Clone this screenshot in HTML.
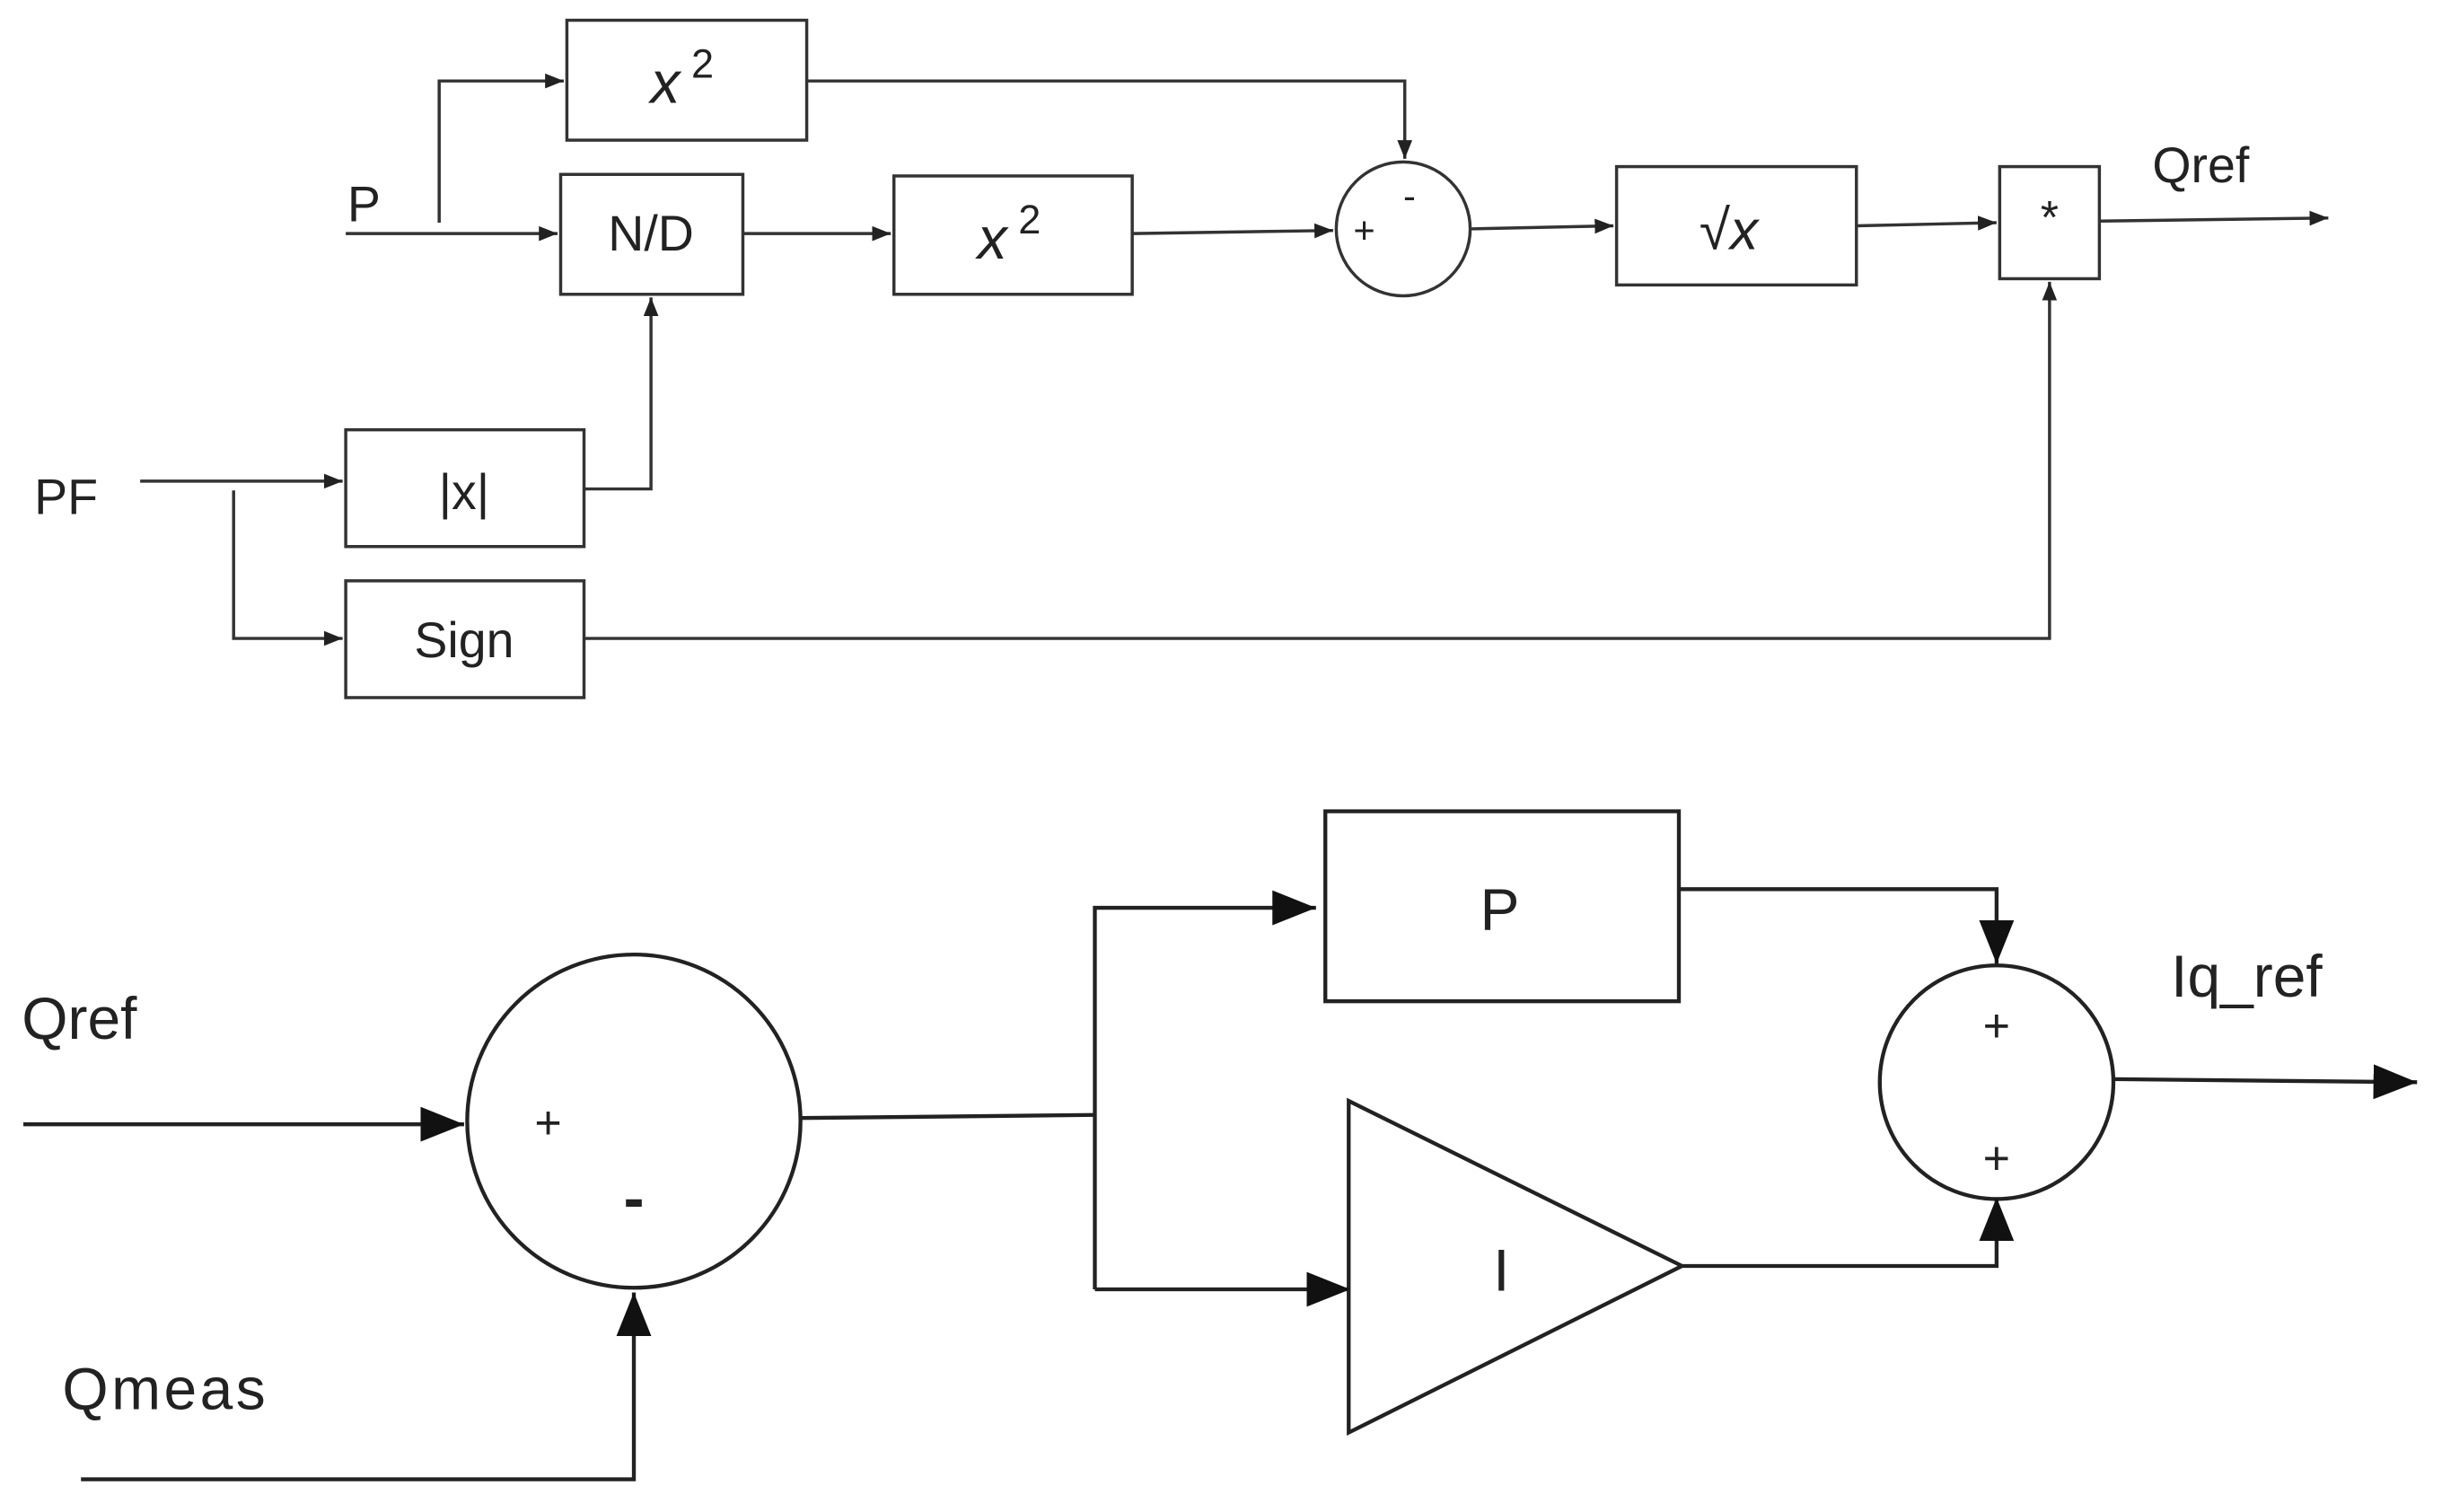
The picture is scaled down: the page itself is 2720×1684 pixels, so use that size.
<!DOCTYPE html>
<html><head><meta charset="utf-8"><style>
html,body{margin:0;padding:0;background:#fff;}
svg{display:block;}
text{font-family:"Liberation Sans",sans-serif;fill:#222;}
</style></head><body>
<svg width="2720" height="1684" viewBox="0 0 1568 971" preserveAspectRatio="none" xmlns="http://www.w3.org/2000/svg">
<defs>
<marker id="a" viewBox="0 0 10 10" refX="10" refY="5" markerWidth="12" markerHeight="12" orient="auto" markerUnits="userSpaceOnUse"><path d="M0,1L10,5L0,9z" fill="#222"/></marker>
<marker id="b" viewBox="0 0 10 10" refX="10" refY="5" markerWidth="28" markerHeight="28" orient="auto" markerUnits="userSpaceOnUse"><path d="M0,1L10,5L0,9z" fill="#111"/></marker>
</defs>
<g stroke="#333" stroke-width="2" fill="none">
<rect x="364" y="13" width="154" height="77"/>
<rect x="360" y="112" width="117" height="77"/>
<rect x="574" y="113" width="153" height="76"/>
<circle cx="901" cy="147" r="43"/>
<rect x="1038" y="107" width="154" height="76"/>
<rect x="1284" y="107" width="64" height="72"/>
<rect x="222" y="276" width="153" height="75"/>
<rect x="222" y="373" width="153" height="75"/>
<path d="M222,150H358" marker-end="url(#a)"/>
<path d="M282,143V52H362" marker-end="url(#a)"/>
<path d="M477,150H572" marker-end="url(#a)"/>
<path d="M727,150L856,148" marker-end="url(#a)"/>
<path d="M518,52H902V102" marker-end="url(#a)"/>
<path d="M944,147L1036,145" marker-end="url(#a)"/>
<path d="M1192,145L1282,143" marker-end="url(#a)"/>
<path d="M1348,142L1495,140" marker-end="url(#a)"/>
<path d="M90,309H220" marker-end="url(#a)"/>
<path d="M375,314H418V191" marker-end="url(#a)"/>
<path d="M150,315V410H220" marker-end="url(#a)"/>
<path d="M375,410H1316V181" marker-end="url(#a)"/>
</g>
<g stroke="#222" stroke-width="2.5" fill="none">
<circle cx="407" cy="720" r="107"/>
<rect x="851" y="521" width="227" height="122"/>
<path d="M866,707L866,920L1080,813z"/>
<circle cx="1282" cy="695" r="75"/>
<path d="M15,722H298" marker-end="url(#b)"/>
<path d="M52,950H407V830" marker-end="url(#b)"/>
<path d="M514,718L703,716"/>
<path d="M703,828V583H845" marker-end="url(#b)"/>
<path d="M703,828H867" marker-end="url(#b)"/>
<path d="M1078,571H1282V619" marker-end="url(#b)"/>
<path d="M1080,813H1282V769" marker-end="url(#b)"/>
<path d="M1356,693L1552,695" marker-end="url(#b)"/>
</g>
<text x="438" y="66" font-size="38" font-style="italic" font-family="Liberation Serif" text-anchor="middle">x<tspan dy="-16" font-size="26" font-style="normal"> 2</tspan></text>
<text x="648" y="166" font-size="38" font-style="italic" font-family="Liberation Serif" text-anchor="middle">x<tspan dy="-16" font-size="26" font-style="normal"> 2</tspan></text>
<text x="418" y="161" font-size="32" text-anchor="middle">N/D</text>
<text x="1110" y="160" font-size="36" font-family="Liberation Serif" text-anchor="middle">√<tspan font-style="italic">x</tspan></text>
<text x="1316" y="150" font-size="30" text-anchor="middle">*</text>
<text x="876" y="156" font-size="24" text-anchor="middle">+</text>
<text x="905" y="134" font-size="24" text-anchor="middle">-</text>
<text x="298" y="327" font-size="32" text-anchor="middle">|x|</text>
<text x="298" y="422" font-size="32" text-anchor="middle">Sign</text>
<text x="223" y="142" font-size="32">P</text>
<text x="22" y="330" font-size="32">PF</text>
<text x="1382" y="117" font-size="32">Qref</text>
<text x="14" y="667" font-size="38">Qref</text>
<text x="40" y="905" font-size="38" letter-spacing="2">Qmeas</text>
<text x="1394" y="640" font-size="38">Iq_ref</text>
<text x="352" y="731" font-size="30" text-anchor="middle">+</text>
<text x="407" y="783" font-size="40" font-weight="bold" text-anchor="middle">-</text>
<text x="963" y="597" font-size="38" text-anchor="middle">P</text>
<text x="964" y="829" font-size="38" text-anchor="middle">I</text>
<text x="1282" y="669" font-size="30" text-anchor="middle">+</text>
<text x="1282" y="754" font-size="30" text-anchor="middle">+</text>
</svg>
</body></html>
